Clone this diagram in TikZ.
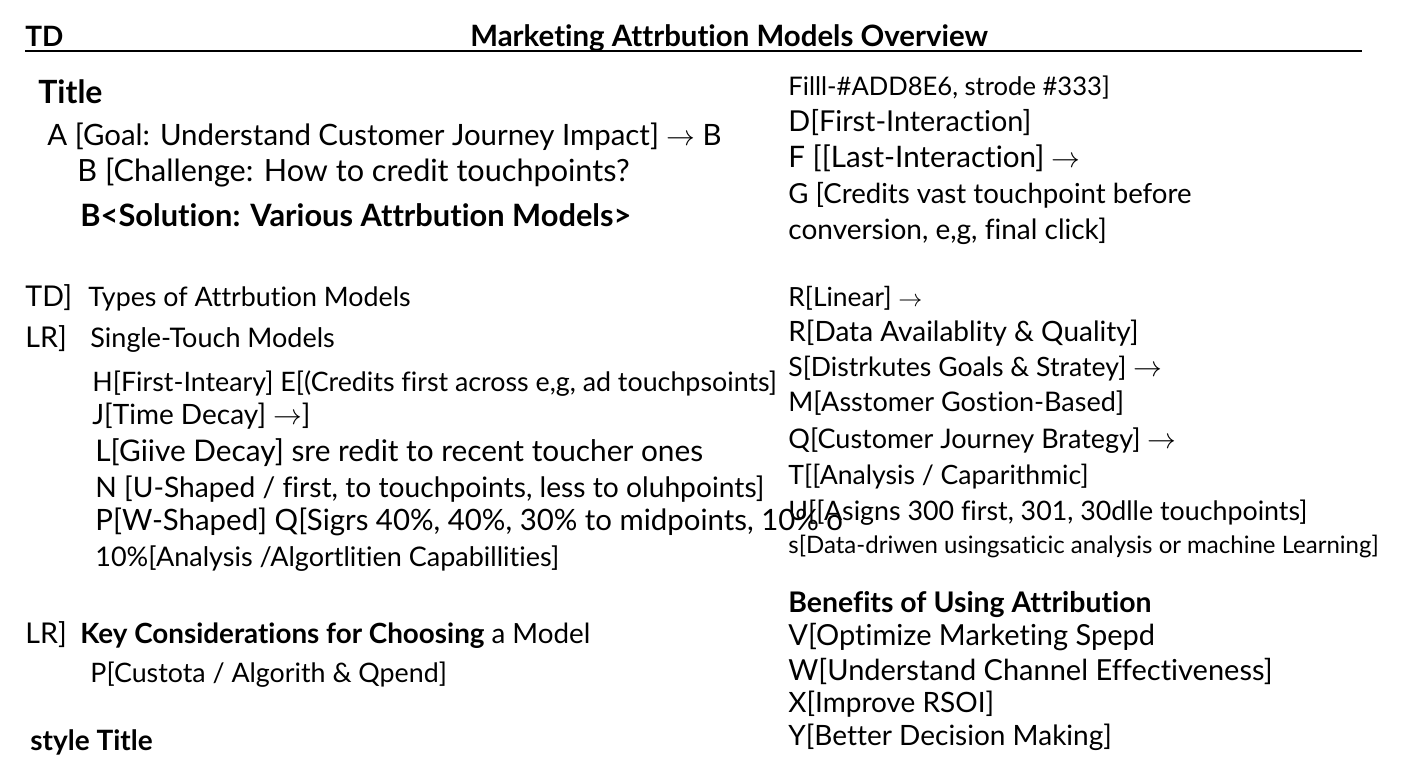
\documentclass[tikz,border=0pt]{standalone}
\usepackage{fontspec}
\setmainfont[Ligatures={NoCommon}]{Lato}
\usetikzlibrary{positioning}
\tikzset{
txt/.style={anchor=base west,inner sep=0pt,font={\fontsize{#1}{#1}\selectfont}},
txt/.default=14,
btxt/.style={anchor=base west,inner sep=0pt,font={\fontsize{#1}{#1}\selectfont\bfseries}},
btxt/.default=14
}

\begin{document}
\begin{tikzpicture}[x=0.5pt,y=-0.5pt]
  \useasboundingbox (0,0) rectangle (1408,768);
  % header
  \node[btxt] (td) at (25,46) {TD};
  \node[btxt=14.7] (overview) at (470,46) {Marketing Attrbution Models Overview};
  \draw[line width=1pt] (25,51) -- (1362,51);
  % left column
  \node[btxt=16] (title) at (38,103) {Title};
  \node[txt=14.7] (goal) at (47,145) {A [Goal: Understand Customer Journey Impact] $\rightarrow$ B};
  \node[txt=15.3] (challenge) at (77,181) {B [Challenge: How to credit touchpoints?};
  \node[btxt=15.4] (solution) at (80,226) {B<Solution: Various Attrbution Models>};
  \node[txt=14.3] (tdkey) at (25,306) {TD]};
  \node[txt=13.4] (types) at (88,306) {Types of Attrbution Models};
  \node[txt=14.3] (lrkey) at (25,347) {LR]};
  \node[txt=13.5] (single) at (90,347) {Single-Touch Models};
  \node[txt=13.4] (h) at (92,391) {H[First-Inteary] E[(Credits first across e,g, ad touchpsoints]};
  \node[txt=14] (j) at (92,424) {J[Time Decay] $\rightarrow$]};
  \node[txt=14.9] (l) at (95,461) {L[Giive Decay] sre redit to recent toucher ones};
  \node[txt=14.1] (n) at (95,497) {N [U-Shaped / first, to touchpoints, less to oluhpoints]};
  \node[txt=14.7] (p) at (95,530) {P[W-Shaped] Q[Sigrs 40\%, 40\%, 30\% to midpoints, 10\% o};
  \node[txt=13.5] (ten) at (95,566) {10\%[Analysis /Algortlitien Capabillities]};
  \node[txt=14.3] (lrkey2) at (25,643) {LR]};
  \node[txt=13.9] (consider) at (80,643) {\textbf{Key Considerations for Choosing} a Model};
  \node[txt=13.4] (custota) at (90,682) {P[Custota / Algorith \& Qpend]};
  \node[btxt] (style) at (30,750) {style Title};
  % right column
  \node[txt=12.8] (fill) at (788,95) {Filll-\#ADD8E6, strode \#333]};
  \node[txt=14.4] (d) at (788,131) {D[First-Interaction]};
  \node[txt=14.8] (f) at (788,167) {F [[Last-Interaction] $\rightarrow$};
  \node[txt=13.8] (g) at (788,203) {G [Credits vast touchpoint before};
  \node[txt] (conv) at (788,239) {conversion, e,g, final click]};
  \node[txt=13.2] (r) at (788,306) {R[Linear] $\rightarrow$};
  \node[txt] (rdata) at (788,341) {R[Data Availablity \& Quality]};
  \node[txt=13.3] (s) at (788,376) {S[Distrkutes Goals \& Stratey] $\rightarrow$};
  \node[txt=13.5] (m) at (788,411) {M[Asstomer Gostion-Based]};
  \node[txt=13.5] (q) at (788,448) {Q[Customer Journey Brategy] $\rightarrow$};
  \node[txt=13.3] (t) at (788,484) {T[[Analysis / Caparithmic]};
  \node[txt=13.4] (u) at (788,520) {U[[Asigns 300 first, 301, 30dlle touchpoints]};
  \node[txt=12] (sdata) at (788,553) {s[Data-driwen usingsaticic analysis or machine Learning]};
  \node[btxt=14.2] (benefits) at (788,612) {Benefits of Using Attribution};
  \node[txt=14.5] (v) at (788,645) {V[Optimize Marketing Spepd};
  \node[txt=14.5] (w) at (788,680) {W[Understand Channel Effectiveness]};
  \node[txt] (x) at (788,712) {X[Improve RSOI]};
  \node[txt] (y) at (788,745) {Y[Better Decision Making]};
\end{tikzpicture}
\end{document}
